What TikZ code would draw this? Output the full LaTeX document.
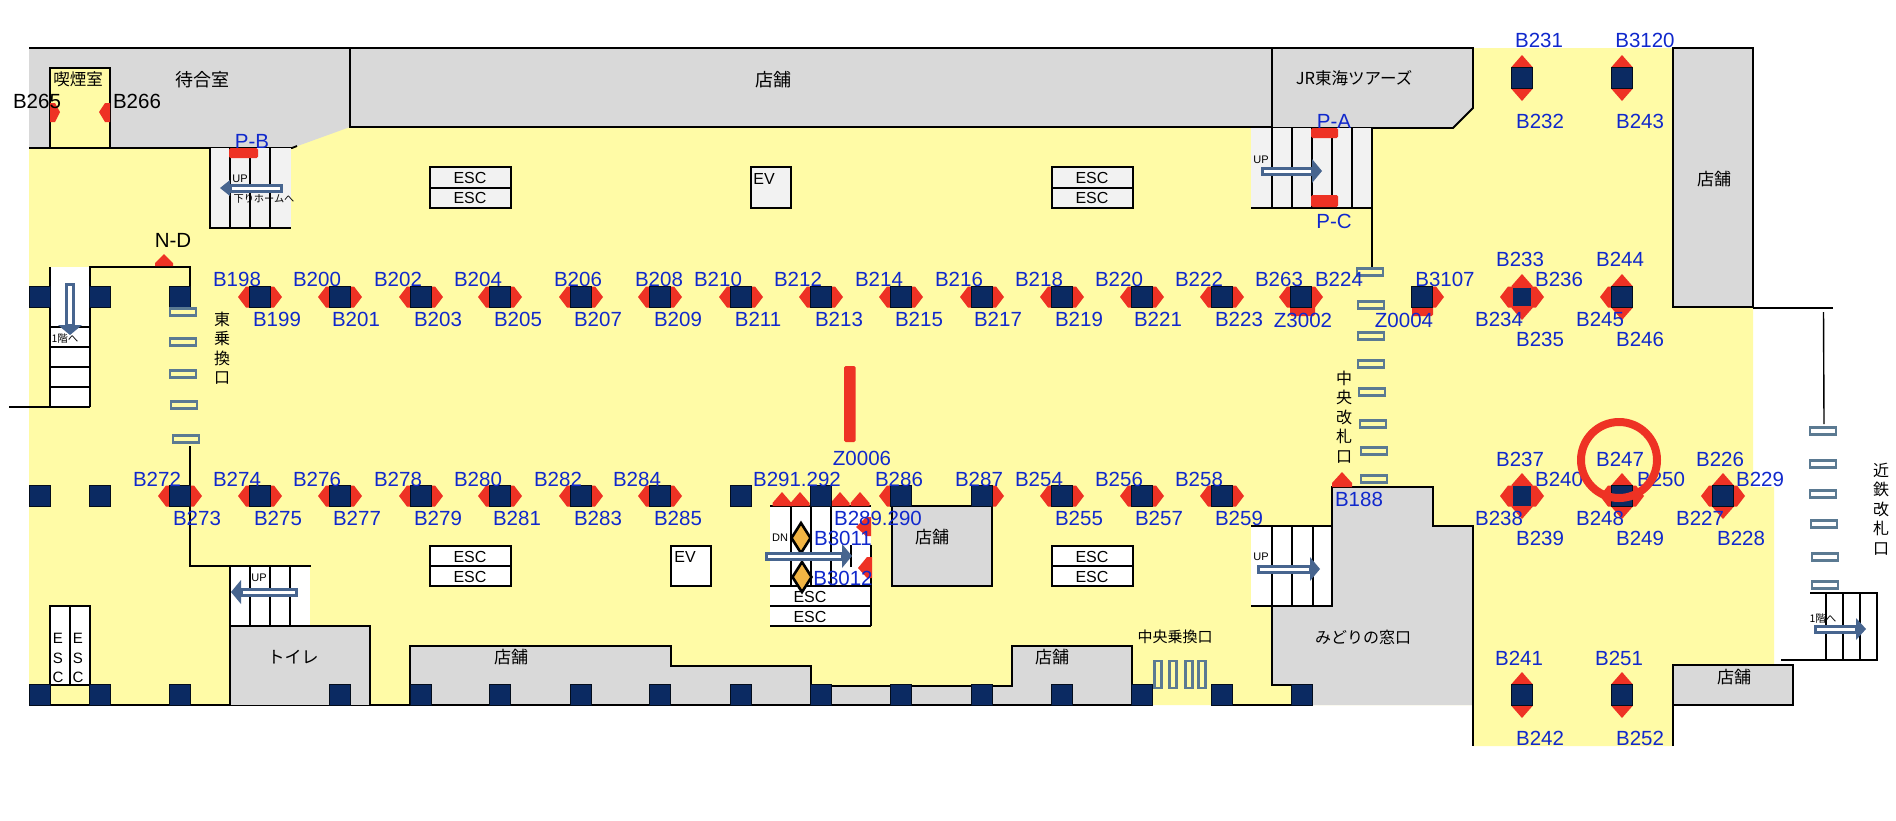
\documentclass[tikz,border=0pt]{standalone}
\usepackage{fontspec}
\setmainfont{Liberation Sans}
\newfontfamily\cjk{Noto Sans CJK JP}
\definecolor{floorY}{HTML}{FFFBA6}
\definecolor{storeG}{HTML}{D9D9D9}
\definecolor{navyP}{HTML}{0B2A62}
\definecolor{redM}{HTML}{EE3224}
\definecolor{blueT}{HTML}{1028CC}
\definecolor{arrowB}{HTML}{47658F}
\definecolor{gateB}{HTML}{5B7A92}
\definecolor{stairG}{HTML}{F2F2F2}
\definecolor{oraD}{HTML}{F2B544}
\newcount\nn
\newcommand{\nd}[4]{\global\advance\nn by 1\relax \node[#1,name=n\the\nn] at (#2,#3) {#4};}
\tikzset{
  wall/.style={draw=black,line width=1.8pt,line join=miter},
  store/.style={wall,fill=storeG},
  lbl/.style={inner sep=0pt,text=blueT,font=\fontsize{20.5}{20.5}\selectfont},
  lblk/.style={inner sep=0pt,text=black,font=\fontsize{20.5}{20.5}\selectfont},
  jp/.style={inner sep=0pt,text=black,font=\cjk\fontsize{17}{17}\selectfont},
  jpv/.style={inner sep=0pt,text=black,align=center,font=\cjk\fontsize{16}{19.5}\selectfont},
  esc/.style={inner sep=0pt,text=black,font=\fontsize{16}{16}\selectfont},
  tiny/.style={inner sep=0pt,text=black,font=\fontsize{11}{11}\selectfont},
  tinyj/.style={inner sep=0pt,text=black,font=\cjk\fontsize{10.5}{10.5}\selectfont},
  gatebox/.style={draw=gateB,line width=2.8pt,fill=floorY},
  redmark/.style={fill=redM,rounded corners=1.5pt},
}
\newcommand{\pil}[2]{\fill[navyP,draw=black!70!navyP,line width=.6pt] (#1-10.3,#2-10.3) rectangle (#1+10.3,#2+10.3);}
\newcommand{\trL}[2]{\fill[redM] (#1-22,#2)--(#1-14,#2-10.5)--(#1-9,#2-10.5)--(#1-9,#2+10.5)--(#1-14,#2+10.5)--cycle;}
\newcommand{\trR}[2]{\fill[redM] (#1+22,#2)--(#1+14,#2-10.5)--(#1+9,#2-10.5)--(#1+9,#2+10.5)--(#1+14,#2+10.5)--cycle;}
\newcommand{\trU}[2]{\fill[redM] (#1,#2-23)--(#1-10.5,#2-11)--(#1-10.5,#2-9)--(#1+10.5,#2-9)--(#1+10.5,#2-11)--cycle;}
\newcommand{\trD}[2]{\fill[redM] (#1,#2+23)--(#1-10.5,#2+11)--(#1-10.5,#2+9)--(#1+10.5,#2+9)--(#1+10.5,#2+11)--cycle;}
% horizontal hollow arrow: tail x, tip x, y, head half height
\newcommand{\harr}[4]{%
  \pgfmathsetmacro{\hb}{#2>#1 ? #2-10 : #2+10}%
  \fill[arrowB] (\hb,#3-#4)--(#2,#3)--(\hb,#3+#4)--cycle;
  \draw[arrowB,line width=3pt,fill=white] (#1,#3-3)--(\hb,#3-3)--(\hb,#3+3)--(#1,#3+3)--cycle;}
\newcommand{\gate}[2]{\draw[gatebox] (#1-13,#2-3.7)rectangle(#1+13,#2+3.7);}
\begin{document}
\begin{tikzpicture}[x=1pt,y=-1pt]
\useasboundingbox (0,0) rectangle (1896,820);
\fill[white] (0,0) rectangle (1896,820);
% floor
\fill[floorY] (29,60)--(1473,48)--(1673,48)--(1673,307)--(1753,307)--(1753,487)--(1774,487)--(1774,665)--(1673,665)--(1673,746)--(1473,746)--(1473,705)--(29,705)--cycle;
% top block
\fill[storeG] (29,48)--(350,48)--(350,127)--(292,148)--(29,148)--cycle;
\draw[wall] (29,48)--(350,48)--(350,127);
\draw[wall] (29,148)--(292,148)--(297,146);
\draw[store] (350,48) rectangle (1272,127);
\draw[store] (1272,48)--(1473,48)--(1473,108)--(1453,128)--(1272,128)--cycle;
\draw[wall,fill=floorY] (50,148)--(50,68)--(110,68)--(110,148);
\draw[wall] (50,148)--(110,148);
\draw[store] (1673,48) rectangle (1753,307);
\draw[wall] (1753,308)--(1833,308);
\draw[wall,line width=1.4pt] (1823.5,312)--(1824,424);
% stairs P-B
\fill[stairG] (210,148) rectangle (291,228);
\draw[wall] (210,148)--(210,228)--(291,228);
\foreach \x in {230,250,270} \draw[wall] (\x,148)--(\x,228);
% stairs P-A
\fill[stairG] (1251,128) rectangle (1372,208);
\draw[wall] (1251,208)--(1372,208);
\foreach \x in {1272,1292,1312,1332,1352} \draw[wall] (\x,128)--(\x,208);
\draw[wall] (1372,128)--(1372,268);
% west stairs
\fill[white] (50,267) rectangle (90,407);
\draw[wall] (9,407)--(90,407);
\draw[wall] (50,267)--(50,407);
\draw[wall] (90,407)--(90,267)--(190,267)--(190,287);
\foreach \y in {327,347,367,387} \draw[wall] (50,\y)--(90,\y);
\draw[wall] (190,446)--(190,566)--(311,566);
% lower stairs
\fill[white] (230,566) rectangle (310,626);
\draw[wall] (190,566)--(311,566);
\foreach \x in {250,270,290} \draw[wall] (\x,566)--(\x,626);
% bottom stores
\draw[wall] (29,705)--(1152,705);
\draw[store] (230,705)--(230,626)--(370,626)--(370,705);
\draw[store] (410,705)--(410,646)--(671,646)--(671,666)--(811,666)--(811,686)--(1012,686)--(1012,646)--(1132,646)--(1132,705)--cycle;
\draw[wall] (230,626)--(230,566);
% ESC vertical
\draw[wall,fill=white] (50,606) rectangle (90,685);
\draw[wall] (70,606)--(70,685);
\draw[wall] (50,685)--(50,705);
\draw[wall] (90,685)--(90,705);
% central stair group
\fill[white] (770,506) rectangle (871,626);
\draw[wall] (770,506)--(871,506);
\foreach \x in {791,811,831} \draw[wall] (\x,506)--(\x,586);
\draw[wall,line width=1.2pt] (851,545)--(851,567);
\draw[wall] (871,545)--(871,626);
\draw[wall] (770,586)--(871,586);
\draw[wall] (770,606)--(871,606);
\draw[wall] (770,626)--(871,626);
\draw[store] (892,506) rectangle (992,586);
% midori
\fill[storeG] (1332,487)--(1433,487)--(1433,526)--(1473,526)--(1473,705)--(1292,705)--(1292,685)--(1272,685)--(1272,606)--(1332,606)--cycle;
\draw[wall] (1292,685)--(1272,685)--(1272,606)--(1332,606)--(1332,487)--(1433,487)--(1433,526)--(1473,526)--(1473,746);
\draw[wall] (1233,705)--(1292,705);
\fill[storeG] (1673,665) rectangle (1793,705);
\draw[wall] (1673,665) rectangle (1793,705);
\draw[wall] (1673,705)--(1673,746);
% stair 526
\fill[white] (1251,526) rectangle (1332,606);
\draw[wall] (1251,526)--(1332,526)--(1332,606)--(1251,606);
\foreach \x in {1272,1292,1313} \draw[wall] (\x,526)--(\x,606);
% east stairs
\fill[white] (1810,593) rectangle (1877,660);
\draw[wall] (1810,593)--(1877,593)--(1877,660)--(1781,660);
\foreach \x in {1826,1843,1860} \draw[wall] (\x,593)--(\x,660);
% ESC & EV boxes
\foreach \x/\col in {430/stairG,1052/stairG}{
  \draw[wall,fill=\col] (\x,167) rectangle (\x+81,208);
  \draw[wall] (\x,188)--(\x+81,188);
}
\foreach \x in {430,1052}{
  \draw[wall,fill=white] (\x,546) rectangle (\x+81,586);
  \draw[wall] (\x,566)--(\x+81,566);
}
\draw[wall,fill=stairG] (751,167) rectangle (791,208);
\draw[wall,fill=white] (671,546) rectangle (711,586);
% red markers beneath pillars
\foreach \x in {260,340,421,500,581,660,741,821,901,982,1062,1142,1222,1301,1522}{\trL{\x}{297}}
\foreach \x in {260,340,421,500,581,660,741,821,901,982,1062,1142,1222,1301,1422,1522}{\trR{\x}{297}}
\trU{1522}{297}\trD{1522}{297}\trL{1622}{297}\trU{1622}{297}\trD{1622}{297}
\fill[redmark] (1290,304) rectangle (1315,316);
\fill[redmark] (1412,304) rectangle (1433,316);
\foreach \x in {180,260,340,421,500,581,660,901,1062,1142,1222,1522,1622,1723}{\trL{\x}{496}}
\foreach \x in {180,260,340,421,500,581,660,982,1062,1142,1222,1522,1622,1723}{\trR{\x}{496}}
\foreach \x in {1522,1622,1723}{\trU{\x}{496}\trD{\x}{496}}
\foreach \x in {1522,1622}{\trU{\x}{78}\trD{\x}{78}\trU{\x}{695}\trD{\x}{695}}
\foreach \x in {782,800,840,860}{\fill[redM] (\x,492)--(\x-9.5,503)--(\x-9.5,506)--(\x+9.5,506)--(\x+9.5,503)--cycle;}
\fill[redM] (164,254)--(155,263)--(155,266)--(173,266)--(173,263)--cycle;
\fill[redM] (1342,472)--(1332,483)--(1332,487)--(1352,487)--(1352,483)--cycle;
\fill[redM] (856,527)--(866,517)--(871,517)--(871,536)--(866,536)--cycle;
\fill[redM] (858,568)--(867,557)--(872,557)--(872,578)--(867,578)--cycle;
\fill[redM] (50,103)--(55,103)--(60,112)--(55,122)--(50,122)--cycle;
\fill[redM] (110,103)--(105,103)--(99,112)--(105,122)--(110,122)--cycle;
\fill[redmark] (229,148) rectangle (258,158);
\fill[redmark] (1311,128) rectangle (1338,138);
\fill[redmark] (1311,195) rectangle (1338,207);
\fill[redmark] (844,366) rectangle (855.5,442);
% pillars
\foreach \x in {39.5,100,180,260,340,421,500,581,660,741,821,901,982,1062,1142,1222,1301,1422,1622}{\pil{\x}{297}}
\foreach \x in {39.5,100,180,260,340,421,500,581,660,741,821,901,982,1062,1142,1222,1622,1723}{\pil{\x}{496}}
\foreach \x in {39.5,100,180,340,421,500,581,660,741,821,901,982,1062,1142,1222,1302}{\pil{\x}{695}}
\foreach \x in {1522,1622}{\pil{\x}{78}\pil{\x}{695}}
\fill[navyP] (1513,288) rectangle (1531,306);
\fill[navyP] (1513,486) rectangle (1531,506);
% gates
\foreach \x/\y in {1370/272,1371/305,1371/336,1371/364,1372/392,1373/424,1374/451,1374/479,183/312,183/342,183/374,184/405,186/439}{\gate{\x}{\y}}
\foreach \x/\y in {1823/431,1823/464,1823/494,1824/524,1825/557,1825/585}{\draw[gateB,line width=2.8pt,fill=white] (\x-13,\y-3.7) rectangle (\x+13,\y+3.7);}
\foreach \x in {1158,1173,1189,1202}{\draw[gateB,line width=2.8pt] (\x-3.5,661) rectangle (\x+3.5,688);}
% diamonds
\foreach \x/\y in {801/538,802/577}{\draw[black,line width=2.6pt,fill=oraD,line join=miter] (\x,\y-15)--(\x+9.5,\y)--(\x,\y+15)--(\x-9.5,\y)--cycle;}
% arrows
\harr{281}{220}{188}{8}
\harr{1262}{1322}{171}{12}
\harr{296}{231}{592}{12}
\harr{766}{852}{556}{12}
\harr{1258}{1320}{569}{12}
\harr{1815}{1866}{629}{11}
\fill[arrowB] (58,325)--(70,335)--(82,325)--cycle;
\draw[arrowB,line width=3pt,fill=white] (66.5,284)--(73.5,284)--(73.5,325)--(66.5,325)--cycle;
% black labels
\nd{lblk}{37}{101}{B265}
\nd{lblk}{137}{101}{B266}
\nd{lblk}{173}{240}{N-D}
% blue labels
\foreach \x/\y/\t in {
 237/279/B198,317/279/B200,398/279/B202,478/279/B204,578/279/B206,659/279/B208,718/279/B210,798/279/B212,879/279/B214,959/279/B216,1039/279/B218,1119/279/B220,1199/279/B222,1279/279/B263,1339/279/B224,1445/279/B3107,
 277/319/B199,356/319/B201,438/319/B203,518/319/B205,598/319/B207,678/319/B209,758/319/B211,839/319/B213,919/319/B215,998/319/B217,1079/319/B219,1158/319/B221,1239/319/B223,1303/320/Z3002,1404/320/Z0004,
 1520/259/B233,1559/279/B236,1499/319/B234,1540/339/B235,1620/259/B244,1600/319/B245,1640/339/B246,
 1539/40/B231,1645/40/B3120,1540/121/B232,1640/121/B243,1334/121/P-A,1334/221/P-C,252/141/P-B,
 1520/459/B237,1559/479/B240,1499/518/B238,1540/538/B239,1620/459/B247,1661/479/B250,1600/518/B248,1640/538/B249,1720/459/B226,1760/479/B229,1700/518/B227,1741/538/B228,
 1519/658/B241,1619/658/B251,1540/738/B242,1640/738/B252,1359/499/B188,
 157/479/B272,237/479/B274,317/479/B276,398/479/B278,478/479/B280,558/479/B282,637/479/B284,797/479/B291.292,899/479/B286,979/479/B287,1039/479/B254,1119/479/B256,1199/479/B258,
 197/518/B273,278/518/B275,357/518/B277,438/518/B279,517/518/B281,598/518/B283,678/518/B285,878/518/B289.290,1079/518/B255,1159/518/B257,1239/518/B259,
 862/458/Z0006,843/538/B3011,843/578/B3012}
 {\nd{lbl}{\x}{\y}{\t}}
% Japanese labels
\nd{jp,font=\cjk\fontsize{16.5}{16.5}\selectfont}{78}{79}{喫煙室}
\nd{jp,font=\cjk\fontsize{18}{18}\selectfont}{202}{80}{待合室}
\nd{jp,font=\cjk\fontsize{18}{18}\selectfont}{773}{80}{店舗}
\nd{jp,font=\cjk\fontsize{16.5}{16.5}\selectfont}{1354}{78}{JR東海ツアーズ}
\nd{jp}{1714}{179}{店舗}
\nd{jp}{293}{657}{トイレ}
\nd{jp}{511}{657}{店舗}
\nd{jp}{1052}{657}{店舗}
\nd{jp}{932}{537}{店舗}
\nd{jp}{1734}{677}{店舗}
\nd{jp,font=\cjk\fontsize{16}{16}\selectfont}{1363}{637}{みどりの窓口}
\nd{jp,font=\cjk\fontsize{15}{15}\selectfont}{1175}{637}{中央乗換口}
\nd{jpv}{222}{348}{東\\乗\\換\\口}
\nd{jpv}{1344}{417}{中\\央\\改\\札\\口}
\nd{jpv}{1881}{509}{近\\鉄\\改\\札\\口}
\nd{tinyj,font=\cjk\fontsize{10.2}{10.2}\selectfont}{264}{199}{下りホームへ}
\nd{tinyj}{65}{339}{1階へ}
\nd{tinyj}{1823}{619}{1階へ}
% small labels
\nd{tiny}{240}{179}{UP}
\nd{tiny}{1261}{160}{UP}
\nd{tiny}{259}{578}{UP}
\nd{tiny}{1261}{557}{UP}
\nd{tiny}{780}{538}{DN}
% ESC
\foreach \x/\y in {470/178,470/198,1092/178,1092/198,470/557,470/577,1092/557,1092/577,810/597,810/617}{\nd{esc}{\x}{\y}{ESC}}
\nd{esc}{764}{179}{EV}
\nd{esc}{685}{557}{EV}
\nd{esc,align=center,font=\fontsize{15}{19.5}\selectfont}{58}{658}{E\\S\\C}
\nd{esc,align=center,font=\fontsize{15}{19.5}\selectfont}{78}{658}{E\\S\\C}
% circle
\draw[redM,line width=8pt] (1619,460) circle (38);
\end{tikzpicture}
\end{document}
